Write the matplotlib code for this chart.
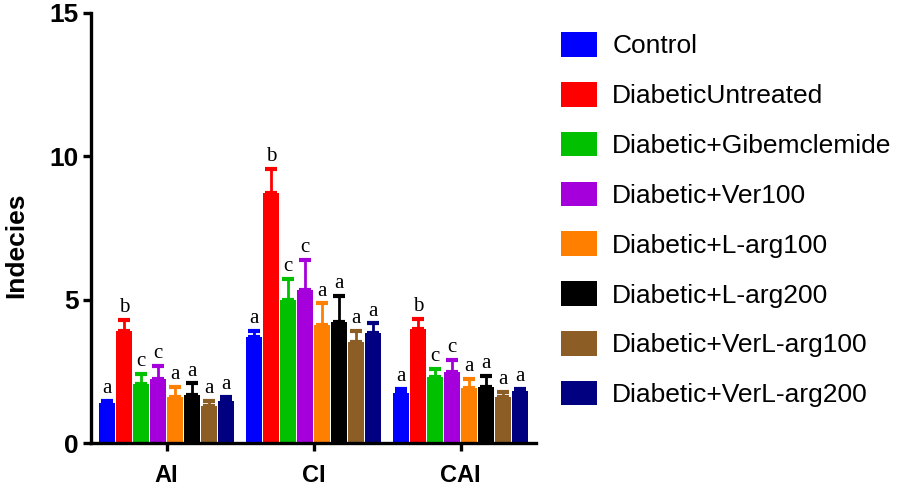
import numpy as np
import matplotlib
matplotlib.use("Agg")
import matplotlib.pyplot as plt
from matplotlib.patches import Patch

groups = ["AI", "CI", "CAI"]
series = ["Control", "DiabeticUntreated", "Diabetic+Gibemclemide", "Diabetic+Ver100",
          "Diabetic+L-arg100", "Diabetic+L-arg200", "Diabetic+VerL-arg100", "Diabetic+VerL-arg200"]
colors = ["#0000FF", "#FF0000", "#00C000", "#A500DC", "#FF8000", "#000000", "#8C5E26", "#000080"]

# means per series (AI, CI, CAI)
means = [
    [1.40, 3.69, 1.74],
    [3.91, 8.73, 3.98],
    [2.05, 5.00, 2.31],
    [2.22, 5.34, 2.47],
    [1.62, 4.12, 1.91],
    [1.67, 4.23, 1.96],
    [1.30, 3.51, 1.62],
    [1.48, 3.85, 1.81],
]
# upper error (SEM)
errors = [
    [0.08, 0.22, 0.14],
    [0.38, 0.82, 0.35],
    [0.35, 0.72, 0.28],
    [0.48, 1.04, 0.43],
    [0.34, 0.75, 0.31],
    [0.41, 0.91, 0.38],
    [0.17, 0.40, 0.17],
    [0.14, 0.32, 0.08],
]
letters = [
    ["a", "a", "a"],
    ["b", "b", "b"],
    ["c", "c", "c"],
    ["c", "c", "c"],
    ["a", "a", "a"],
    ["a", "a", "a"],
    ["a", "a", "a"],
    ["a", "a", "a"],
]

plt.rcParams['font.family'] = ['Liberation Sans', 'DejaVu Sans']

fig = plt.figure(figsize=(9.04, 4.95), dpi=100)
ax = fig.add_axes([0.1007, 0.105, 0.4923, 0.869])

step = 0.1156
width = 0.108
x = np.arange(len(groups))
for i, name in enumerate(series):
    pos = x + (i - 3.5) * step
    ax.bar(pos, means[i], width=width, color=colors[i], edgecolor="none", zorder=2)
    ax.errorbar(pos, means[i], yerr=[np.zeros(3), errors[i]], fmt="none",
                ecolor=colors[i], elinewidth=2, capsize=4, capthick=3, zorder=3)
    for j in range(len(groups)):
        ax.text(pos[j], means[i][j] + errors[i][j] + 0.1, letters[i][j],
                ha="center", va="bottom", fontsize=15, family="Liberation Serif")

ax.set_xlim(-0.514, 2.514)
ax.set_ylim(0, 15)
ax.set_yticks([0, 5, 10, 15])
ax.set_xticks(x)
ax.set_xticklabels(groups)
ax.spines["top"].set_visible(False)
ax.spines["right"].set_visible(False)
ax.spines["left"].set_linewidth(2.4)
ax.spines["bottom"].set_linewidth(2.4)
ax.tick_params(axis="y", length=6, width=2.4, labelsize=19, pad=3)
ax.tick_params(axis="x", length=6, width=2.4, labelsize=17, pad=9)
for lab in ax.get_xticklabels() + ax.get_yticklabels():
    lab.set_fontweight("bold")
ax.set_ylabel("Indecies", fontsize=19, fontweight="bold")
ax.yaxis.set_label_coords(-0.14, 0.46)

handles = [Patch(facecolor=c, edgecolor="none") for c in colors]
fig.legend(handles, series, loc="upper left", bbox_to_anchor=(0.621, 0.935),
           frameon=False, fontsize=19, handlelength=1.36, handleheight=1.06,
           handletextpad=0.57, labelspacing=0.89, borderaxespad=0, borderpad=0)

fig.savefig("out.png", dpi=100)
